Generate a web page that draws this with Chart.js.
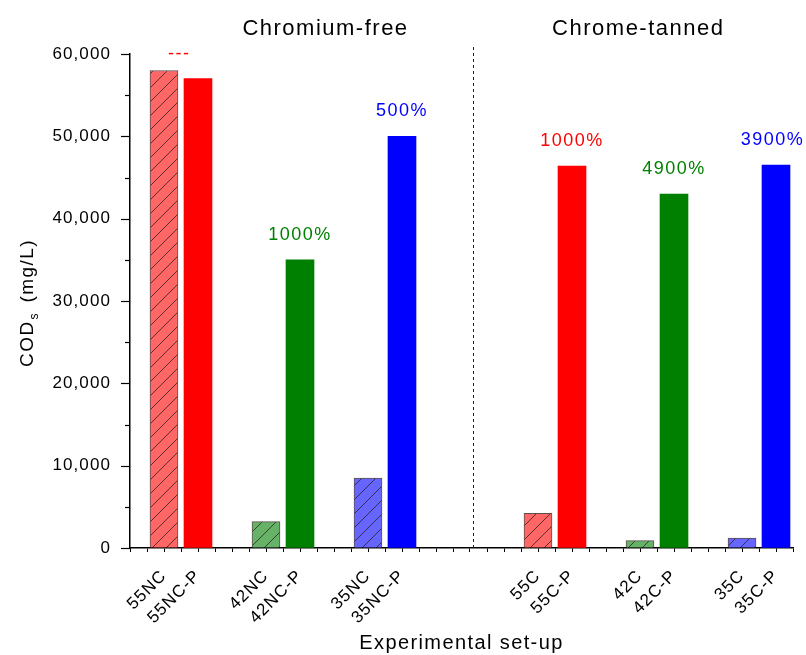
<!DOCTYPE html>
<html>
<head>
<meta charset="utf-8">
<script src="https://cdn.jsdelivr.net/npm/chart.js@4"></script>
<style>
  html, body { margin: 0; padding: 0; background: #fff; }
  #wrap { width: 806px; height: 655px; }
</style>
</head>
<body>
<div id="wrap"><canvas id="c" width="806" height="655"></canvas></div>
<script>
// x-axis slots; '' leaves an empty slot between sample pairs
const slots = ['', '55NC', '55NC-P', '', '42NC', '42NC-P', '', '35NC', '35NC-P', '', '', '',
               '55C', '55C-P', '', '42C', '42C-P', '', '35C', '35C-P'];

// Soluble COD before pre-treatment (hatched bars)
const rawSamples = ['55NC', '42NC', '35NC', '55C', '42C', '35C'];
const rawCOD = [58000, 3200, 8500, 4200, 900, 1200];

// Soluble COD after pre-treatment (solid bars)
const pretreatedSamples = ['55NC-P', '42NC-P', '35NC-P', '55C-P', '42C-P', '35C-P'];
const pretreatedCOD = [57000, 35000, 50000, 46400, 43000, 46500];

// Increase printed above each pre-treated bar
const increaseLabels = ['---', '1000%', '500%', '1000%', '4900%', '3900%'];

const groupTitles = ['Chromium-free', 'Chrome-tanned'];
const yAxisTitle = ['COD', 's', ' (mg/L)'];
const xAxisTitle = 'Experimental set-up';

const FONT = "'Liberation Sans', Arial, Helvetica, sans-serif";
const families = ['55', '42', '35'];
const solidColors = ['#ff0000', '#008000', '#0000ff'];
const lightColors = ['#ff6666', '#66b266', '#6666ff'];
const familyOf = s => families.indexOf(s.slice(0, 2));

function hatch(fill) {
  const s = 14;
  const c = document.createElement('canvas');
  c.width = c.height = s;
  const g = c.getContext('2d');
  g.fillStyle = fill;
  g.fillRect(0, 0, s, s);
  g.strokeStyle = 'rgba(30,20,20,0.7)';
  g.lineWidth = 1;
  g.beginPath();
  g.moveTo(-1, s + 1); g.lineTo(s + 1, -1);
  g.moveTo(-s / 2 - 1, s / 2 + 1); g.lineTo(s / 2 + 1, -s / 2 - 1);
  g.moveTo(s / 2 - 1, s * 1.5 + 1); g.lineTo(s * 1.5 + 1, s / 2 - 1);
  g.stroke();
  return g.createPattern(c, 'repeat');
}

// Wider letter spacing for all canvas text
const spacing = {
  id: 'spacing',
  beforeUpdate(chart) { chart.ctx.letterSpacing = '1.1px'; },
  beforeDraw(chart) { chart.ctx.letterSpacing = '1.1px'; }
};

// Tick marks on the value axis: long at labelled values, short in between
const yTickMarks = {
  id: 'yTickMarks',
  afterDraw(chart) {
    const y = chart.scales.y, ctx = chart.ctx, left = chart.chartArea.left;
    ctx.save();
    ctx.strokeStyle = '#000';
    ctx.lineWidth = 1.2;
    y.ticks.forEach(t => {
      const py = Math.round(y.getPixelForValue(t.value)) + 0.5;
      const len = t.value % 10000 === 0 ? 9 : 5;
      ctx.beginPath();
      ctx.moveTo(left - len, py);
      ctx.lineTo(left, py);
      ctx.stroke();
    });
    ctx.restore();
  }
};

// Divider, group titles, increase labels and axis titles
const annotations = {
  id: 'annotations',
  afterDatasetsDraw(chart, args, opts) {
    const { ctx, chartArea } = chart;
    const xs = chart.scales.x, ys = chart.scales.y;
    ctx.save();

    // dashed divider between the two leather groups
    const dx = Math.round(xs.getPixelForValue(opts.dividerAt)) + 0.5;
    ctx.strokeStyle = '#222';
    ctx.lineWidth = 1;
    ctx.setLineDash([3, 3]);
    ctx.beginPath();
    ctx.moveTo(dx, chartArea.top - 7);
    ctx.lineTo(dx, chartArea.bottom);
    ctx.stroke();
    ctx.setLineDash([]);

    // group titles
    ctx.fillStyle = '#000';
    ctx.letterSpacing = '1.5px';
    ctx.font = '22px ' + FONT;
    ctx.textAlign = 'center';
    ctx.textBaseline = 'alphabetic';
    groupTitles.forEach((t, i) => ctx.fillText(t, xs.getPixelForValue(opts.titleAt[i]), 35));

    // increase labels above the pre-treated bars
    ctx.font = '18px ' + FONT;
    ctx.textBaseline = 'middle';
    pretreatedSamples.forEach((s, i) => {
      const px = xs.getPixelForValue(slots.indexOf(s) + opts.labelShift[i]);
      const py = ys.getPixelForValue(pretreatedCOD[i]) - 25;
      ctx.fillStyle = solidColors[familyOf(s)];
      ctx.fillText(increaseLabels[i], px, py);
    });

    // x-axis title
    ctx.fillStyle = '#000';
    ctx.font = '20px ' + FONT;
    ctx.letterSpacing = '1.4px';
    ctx.textBaseline = 'alphabetic';
    ctx.fillText(xAxisTitle, (chartArea.left + chartArea.right) / 2, 649);

    // y-axis title with subscript
    ctx.translate(33, (chartArea.top + chartArea.bottom) / 2 + 2);
    ctx.rotate(-Math.PI / 2);
    ctx.textAlign = 'left';
    const big = '19px ' + FONT, small = '12px ' + FONT;
    ctx.font = big;
    const w0 = ctx.measureText(yAxisTitle[0]).width;
    const w2 = ctx.measureText(yAxisTitle[2]).width;
    ctx.font = small;
    const w1 = ctx.measureText(yAxisTitle[1]).width;
    let x0 = -(w0 + w1 + w2 + 4) / 2;
    ctx.font = big;
    ctx.fillText(yAxisTitle[0], x0, 0);
    ctx.font = small;
    ctx.fillText(yAxisTitle[1], x0 + w0 + 1, 5);
    ctx.font = big;
    ctx.fillText(yAxisTitle[2], x0 + w0 + w1 + 4, 0);

    ctx.restore();
  }
};

Chart.defaults.font.family = FONT;
Chart.defaults.font.size = 17;
Chart.defaults.color = '#000';

new Chart(document.getElementById('c'), {
  type: 'bar',
  data: {
    datasets: [
      {
        label: 'Raw',
        data: rawSamples.map((s, i) => ({ x: slots.indexOf(s), y: rawCOD[i] })),
        backgroundColor: rawSamples.map(s => hatch(lightColors[familyOf(s)])),
        borderColor: 'rgba(40,20,20,0.75)',
        borderWidth: 1,
        barThickness: 28,
        grouped: false
      },
      {
        label: 'Pre-treated',
        data: pretreatedSamples.map((s, i) => ({ x: slots.indexOf(s), y: pretreatedCOD[i] })),
        backgroundColor: pretreatedSamples.map(s => solidColors[familyOf(s)]),
        borderWidth: 0,
        barThickness: 28,
        grouped: false
      }
    ]
  },
  options: {
    responsive: false,
    animation: false,
    devicePixelRatio: 1,
    layout: { padding: { left: 0, top: 54, right: 13, bottom: 0 } },
    plugins: {
      legend: { display: false },
      tooltip: { enabled: false },
      annotations: {
        dividerAt: 10.1,
        titleAt: [5.75, 14.95],
        labelShift: [-0.55, 0, 0, 0, 0, -0.1]
      }
    },
    scales: {
      x: {
        type: 'linear',
        min: 0,
        max: 19.5,
        offset: false,
        grid: { display: true, drawOnChartArea: false, drawTicks: true, tickLength: 4, color: '#000', offset: false },
        border: { display: true, color: '#000', width: 1.5 },
        ticks: {
          stepSize: 0.5,
          autoSkip: false,
          minRotation: 45,
          maxRotation: 45,
          padding: 14,
          font: { size: 17 },
          callback: v => (Number.isInteger(v) ? slots[v] || '' : '')
        },
        afterFit: s => { s.height = 107; s.paddingLeft = 0; s.paddingRight = 0; }
      },
      y: {
        min: 0,
        max: 60000,
        grid: { display: true, drawOnChartArea: false, drawTicks: false },
        border: { display: true, color: '#000', width: 1.5 },
        ticks: {
          stepSize: 5000,
          padding: 19,
          font: { size: 17 },
          callback: v => (v % 10000 === 0 ? v.toLocaleString('en-US') : '')
        },
        afterFit: s => { s.width = 130; s.paddingTop = 0; s.paddingBottom = 0; }
      }
    }
  },
  plugins: [spacing, yTickMarks, annotations]
});
</script>
</body>
</html>
